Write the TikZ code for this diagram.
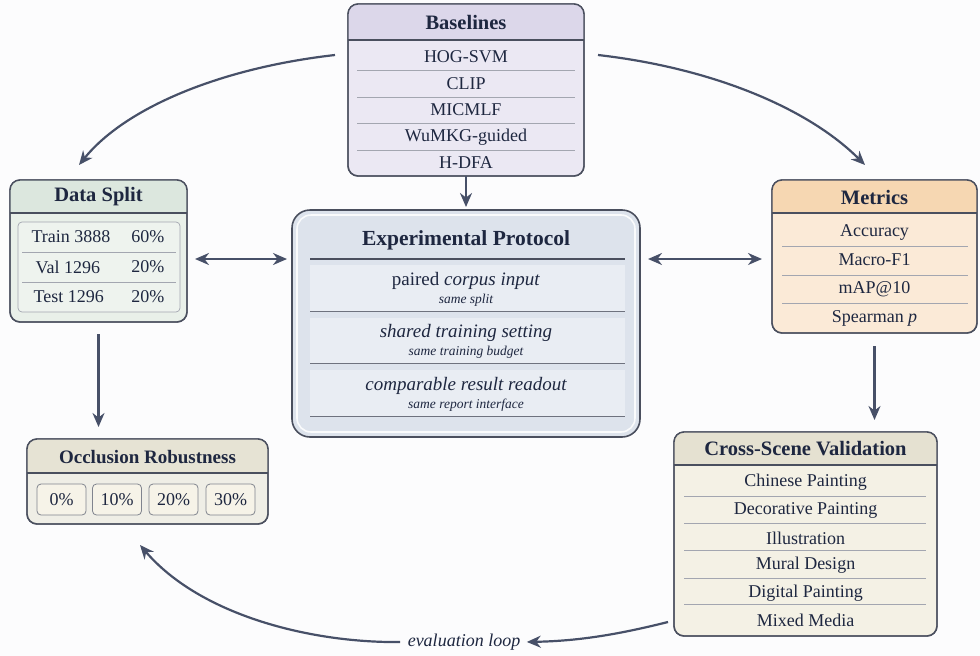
\documentclass[tikz,border=0pt]{standalone}
\usepackage{fontspec}
\setmainfont{Liberation Serif}
\usetikzlibrary{arrows.meta,calc}
\definecolor{ink}{HTML}{1E2740}
\definecolor{edge}{HTML}{4A4F5E}
\definecolor{arr}{HTML}{475068}
\definecolor{sep}{HTML}{A3A6B0}
\definecolor{bg}{HTML}{FCFCFD}
\definecolor{bhead}{HTML}{DCD7EA}
\definecolor{bbody}{HTML}{EBE8F3}
\definecolor{dhead}{HTML}{DCE7DE}
\definecolor{dbody}{HTML}{E9F0E9}
\definecolor{dpanel}{HTML}{EEF3EE}
\definecolor{pfill}{HTML}{DDE3EC}
\definecolor{prow}{HTML}{E9EDF3}
\definecolor{mhead}{HTML}{F6D7B2}
\definecolor{mbody}{HTML}{FBEAD7}
\definecolor{chead}{HTML}{E5E1D1}
\definecolor{cbody}{HTML}{F4F1E5}
\definecolor{ohead}{HTML}{E6E3D4}
\definecolor{obody}{HTML}{EFEEE6}
\definecolor{ochip}{HTML}{F6F3E8}
\tikzset{
  cardbox/.style={draw=edge, line width=1.4pt, rounded corners=10pt, inner sep=0pt, outer sep=0pt},
  ttl/.style={text=ink, font=\bfseries\fontsize{20.5}{22}\selectfont},
  itm/.style={text=ink, font=\fontsize{18}{20}\selectfont},
  sepline/.style={draw=sep, line width=0.7pt},
  arrow/.style={draw=arr, line width=2.2pt, -{Stealth[length=14pt,width=12pt]}},
  dblarrow/.style={draw=arr, line width=2.2pt, {Stealth[length=14pt,width=12pt]}-{Stealth[length=14pt,width=12pt]}},
  chip/.style={draw=edge!70, fill=ochip, line width=0.8pt, rounded corners=4pt, minimum width=49pt, minimum height=31pt, inner sep=0pt, text=ink, font=\fontsize{18}{20}\selectfont},
}
% name, x1, y1, x2, y2, yhead, headcolor, bodycolor
\newcommand\mycard[8]{%
  \node[cardbox, fill=#8, minimum width={#4-#2}, minimum height={#5-#3}] (#1) at ({(#2+#4)/2},{(#3+#5)/2}) {};
  \begin{scope}
    \clip[rounded corners=10pt] (#2,#3) rectangle (#4,#5);
    \fill[#7] (#2,#3) rectangle (#4,#6);
  \end{scope}
  \draw[edge, line width=1.2pt] (#2,#6) -- (#4,#6);
  \draw[edge, line width=1.4pt, rounded corners=10pt] (#2,#3) rectangle (#4,#5);
}
\begin{document}
\begin{tikzpicture}[x=1pt,y=-1pt]
\fill[bg] (0,0) rectangle (980,656);
\useasboundingbox (0,0) rectangle (980,656);

% ---------- Baselines ----------
\mycard{base}{348}{4}{584}{176}{40}{bhead}{bbody}
\node[ttl] (baset) at (466,22) {Baselines};
\node[itm] (b1) at (466,57) {HOG-SVM};
\node[itm] (b2) at (466,84) {CLIP};
\node[itm] (b3) at (466,110) {MICMLF};
\node[itm] (b4) at (466,137) {WuMKG-guided};
\node[itm] (b5) at (466,163) {H-DFA};
\foreach \y in {70.5,97,123.5,150} \draw[sepline] (357,\y) -- (575,\y);

% ---------- Data Split ----------
\mycard{split}{10}{180}{187}{322}{213}{dhead}{dbody}
\node[ttl] (splitt) at (98.5,197) {Data Split};
\draw[draw=sep, fill=dpanel, line width=0.7pt, rounded corners=4pt] (18,222) rectangle (180,312);
\foreach \y in {252,282} \draw[sepline] (22,\y) -- (176,\y);
\node[itm, anchor=west] (s1) at (28,237) {Train 3888};
\node[itm, anchor=east] (s1p) at (168,237) {60\%};
\node[itm, anchor=west] (s2) at (32,267) {Val 1296};
\node[itm, anchor=east] (s2p) at (168,267) {20\%};
\node[itm, anchor=west] (s3) at (30,297) {Test 1296};
\node[itm, anchor=east] (s3p) at (168,297) {20\%};

% ---------- Experimental Protocol ----------
\node[draw=edge, line width=1.6pt, fill=pfill, rounded corners=18pt, minimum width=348pt, minimum height=227pt, inner sep=0pt, outer sep=0pt] (proto) at (466,323.5) {};
\draw[white!85!pfill, line width=1.6pt, rounded corners=14pt] (297,215) rectangle (635,432);
\node[text=ink, font=\bfseries\fontsize{21.5}{24}\selectfont] (protot) at (466,240) {Experimental Protocol};
\draw[edge, line width=1.2pt] (310,259) -- (625,259);
\foreach \a/\b in {265/311,318/363,370/416}{
  \fill[prow] (310,\a) rectangle (625,\b);
  \draw[edge!80, line width=1pt] (310,\b) -- (625,\b);
}
\node[text=ink, font=\fontsize{19}{21}\selectfont] (r1) at (466,281) {paired \textit{corpus input}};
\node[text=ink, font=\itshape\fontsize{13.5}{15}\selectfont] (r1s) at (466,300) {same split};
\node[text=ink, font=\itshape\fontsize{19}{21}\selectfont] (r2) at (466,333) {shared training setting};
\node[text=ink, font=\itshape\fontsize{13.5}{15}\selectfont] (r2s) at (466,352) {same training budget};
\node[text=ink, font=\itshape\fontsize{19}{21}\selectfont] (r3) at (466,386) {comparable result readout};
\node[text=ink, font=\itshape\fontsize{13.5}{15}\selectfont] (r3s) at (466,405) {same report interface};

% ---------- Metrics ----------
\mycard{metr}{772}{180}{977}{333}{213}{mhead}{mbody}
\node[ttl] (metrt) at (874.5,197) {Metrics};
\node[itm] (m1) at (874.5,232) {Accuracy};
\node[itm] (m2) at (874.5,260) {Macro-F1};
\node[itm] (m3) at (874.5,289) {mAP@10};
\node[itm] (m4) at (874.5,318) {Spearman \textit{p}};
\foreach \y in {246,275,303.5} \draw[sepline] (782,\y) -- (968,\y);

% ---------- Cross-Scene Validation ----------
\mycard{cross}{674}{432}{937}{636}{465}{chead}{cbody}
\node[ttl] (crosst) at (805.5,449) {Cross-Scene Validation};
\node[itm] (c1) at (805.5,482) {Chinese Painting};
\node[itm] (c2) at (805.5,510) {Decorative Painting};
\node[itm] (c3) at (805.5,538) {Illustration};
\node[itm] (c4) at (805.5,565) {Mural Design};
\node[itm] (c5) at (805.5,593) {Digital Painting};
\node[itm] (c6) at (805.5,620) {Mixed Media};
\foreach \y in {496,523.5,550,578,604} \draw[sepline] (684,\y) -- (926,\y);

% ---------- Occlusion Robustness ----------
\mycard{occ}{27}{439}{268}{524}{473}{ohead}{obody}
\node[ttl, font=\bfseries\fontsize{19}{21}\selectfont] (occt) at (147.5,457) {Occlusion Robustness};
\node[chip] (o0) at (61.5,499.5) {0\%};
\node[chip] (o1) at (117,499.5) {10\%};
\node[chip] (o2) at (173.5,499.5) {20\%};
\node[chip] (o3) at (230.5,499.5) {30\%};

% ---------- Connectors ----------
\coordinate (h) at (0,259);
\draw[arrow, shorten >=3pt] (base.south) -- (proto.north);
\draw[dblarrow, shorten <=8pt, shorten >=5pt] (split.east |- h) -- (proto.west |- h);
\draw[dblarrow, shorten <=8pt, shorten >=10pt] (proto.east |- h) -- (metr.west |- h);
\draw[arrow, shorten <=12pt, shorten >=12pt] (split.south) -- (split.south |- occ.north);
\draw[arrow, shorten <=13pt, shorten >=12pt] (metr.south) -- (metr.south |- cross.north);

\coordinate (lt) at (335,55);
\coordinate (ltend) at (79,165);
\draw[arrow] (lt) .. controls (220,68) and (125,108) .. (ltend);
\coordinate (rt) at (598,55);
\coordinate (rtend) at (865,165);
\draw[arrow] (rt) .. controls (712,68) and (808,108) .. (rtend);

\node[text=ink, font=\itshape\fontsize{18}{20}\selectfont] (loop) at (464,642) {evaluation loop};
\coordinate (lpstart) at (668,622);
\draw[arrow, shorten >=3pt] (lpstart) .. controls (620,634) and (580,641) .. (loop.east);
\coordinate (lpend) at (140,545);
\draw[arrow, shorten <=4pt] (loop.west) .. controls (310,643) and (200,615) .. (lpend);
\end{tikzpicture}
\end{document}
